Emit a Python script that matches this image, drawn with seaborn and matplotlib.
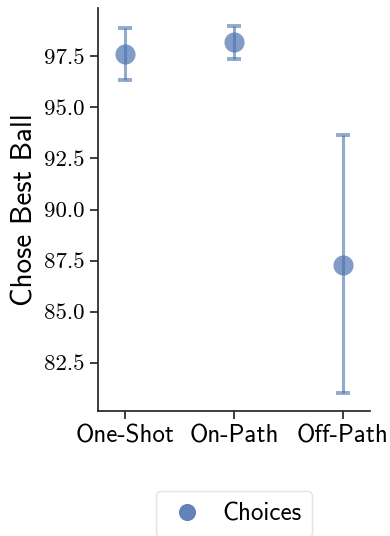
import numpy as np
import matplotlib
matplotlib.use("Agg")
import matplotlib.pyplot as plt
from matplotlib.ticker import MultipleLocator
import seaborn as sns

# data
conditions = ["One-Shot", "On-Path", "Off-Path"]
mean_best = [97.6, 98.18, 87.3]
ci_low = [96.33, 97.35, 81.03]
ci_high = [98.87, 98.97, 93.63]

sns.set_theme(style="ticks")
plt.rcParams['font.family'] = ['cmss10', 'DejaVu Sans']
plt.rcParams['axes.unicode_minus'] = False
plt.rcParams['text.color'] = 'black'
plt.rcParams['axes.labelcolor'] = 'black'
plt.rcParams['xtick.labelcolor'] = 'black'
plt.rcParams['ytick.labelcolor'] = 'black'

blue = sns.color_palette("deep")[0]

fig, ax = plt.subplots(figsize=(3.9, 5.36), dpi=100)
fig.subplots_adjust(left=98 / 390, right=370 / 390, top=1 - 8 / 536, bottom=1 - 411 / 536)

sns.pointplot(x=conditions, y=mean_best, errorbar=None, linestyle="none",
              color=blue, markersize=14.5, markeredgewidth=0, alpha=0.7,
              label="Choices", ax=ax)

pos = np.arange(len(conditions))
yerr = [np.array(mean_best) - np.array(ci_low), np.array(ci_high) - np.array(mean_best)]
ax.errorbar(pos, mean_best, yerr=yerr, fmt="none", ecolor=blue, alpha=0.6,
            elinewidth=2.2, capsize=5, capthick=2.8)

ax.set_xlim(-0.25, 2.25)
ax.yaxis.set_major_locator(MultipleLocator(2.5))
ax.set_xlabel("")
ax.set_ylabel("Chose Best Ball", fontsize=21)
ax.tick_params(axis="x", labelsize=18)
ax.tick_params(axis="y", labelsize=16.5, labelfontfamily="cmr10")
sns.despine(ax=ax)

leg = ax.legend(loc="center", bbox_to_anchor=(0.5, -0.255), fontsize=18,
                frameon=True, handletextpad=0.6, handlelength=1.6,
                borderpad=0.45, markerscale=0.85)
leg.get_frame().set_edgecolor("#dddddd")
for h in leg.legend_handles:
    h.set_alpha(0.88)

fig.savefig("out.png", dpi=100)
